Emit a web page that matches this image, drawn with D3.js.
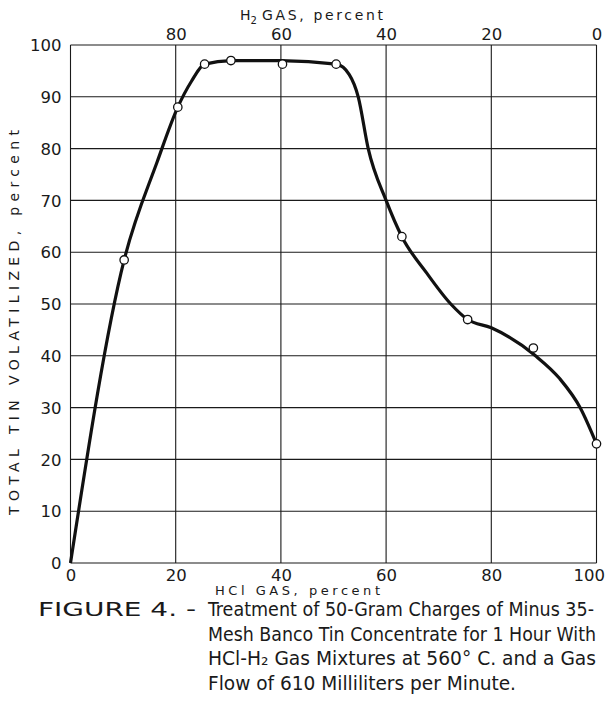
<!DOCTYPE html>
<html><head><meta charset="utf-8">
<script src="https://cdn.jsdelivr.net/npm/d3@7"></script>
<style>
html,body{margin:0;padding:0;background:#fff;}
svg{display:block;}
</style></head>
<body>
<svg id="chart" width="608" height="716"></svg>
<script>
// Measured points: HCl gas percent -> total tin volatilized percent
const hclPoints = [10.2, 20.4, 25.5, 30.5, 40.3, 50.5, 63, 75.5, 88, 100];
const tinPoints = [58.5, 88, 96.3, 97, 96.3, 96.3, 63, 47, 41.5, 23];
// Hand-drawn fitted curve
const curveHcl = [0, 10.2, 16.5, 20.4, 23, 25.5, 30.5, 40, 50.5, 53, 54.7, 56.6, 60, 63, 67.7, 72.3, 75.5, 80, 88.4, 93, 97, 100];
const curveTin = [0, 58.5, 77.5, 88, 93, 96.3, 97, 97, 96.3, 94.3, 90, 80, 70, 63, 56, 50, 47, 45.4, 40, 35.6, 29.8, 23];
const xTicks = [0, 20, 40, 60, 80, 100];
const yTicks = [0, 10, 20, 30, 40, 50, 60, 70, 80, 90, 100];
const topTickLabels = ["80", "60", "40", "20", "0"]; // H2 % at HCl 20,40,60,80,100
const captionLines = [
  "Treatment of 50-Gram Charges of Minus 35-",
  "Mesh Banco Tin Concentrate for 1 Hour With",
  "HCl-H\u2082 Gas Mixtures at 560\u00b0 C. and a  Gas",
  "Flow of 610 Milliliters per Minute."
];

const svg = d3.select("#chart");
const L = 70.5, R = 596.5, T = 45, B = 563;
const x = d3.scaleLinear().domain([0, 100]).range([L, R]);
const y = d3.scaleLinear().domain([0, 100]).range([B, T]);
const ink = "#1a1a1a";
const tickFont = "'DejaVu Sans', sans-serif";

// grid
const g = svg.append("g");
g.selectAll(".vg").data(xTicks).join("line")
  .attr("x1", d => x(d)).attr("x2", d => x(d)).attr("y1", T).attr("y2", B)
  .attr("stroke", ink).attr("stroke-width", 1.1);
g.selectAll(".hg").data(yTicks).join("line")
  .attr("x1", L).attr("x2", R).attr("y1", d => y(d)).attr("y2", d => y(d))
  .attr("stroke", ink).attr("stroke-width", 1.1);

// axes (labels only, via d3 axes)
const bottomAxis = svg.append("g").attr("transform", `translate(0,${B})`)
  .call(d3.axisBottom(x).tickValues(xTicks).tickSize(0).tickPadding(0));
const leftAxis = svg.append("g").attr("transform", `translate(${L},0)`)
  .call(d3.axisLeft(y).tickValues(yTicks).tickSize(0).tickPadding(9));
const topAxis = svg.append("g").attr("transform", `translate(0,${T})`)
  .call(d3.axisTop(x).tickValues([20, 40, 60, 80, 100]).tickSize(0).tickPadding(5)
    .tickFormat((d, i) => topTickLabels[i]));
[bottomAxis, leftAxis, topAxis].forEach(a => {
  a.select(".domain").remove();
  a.selectAll("text").attr("font-family", tickFont).attr("font-size", 16.5).attr("fill", ink);
});
bottomAxis.selectAll("text").attr("y", 17.5).attr("dy", null);
bottomAxis.selectAll("text").filter(d => d === 100).attr("text-anchor", "end").attr("x", 8);
leftAxis.selectAll("text").attr("dy", "0.35em");

// axis titles
const titleFont = "'DejaVu Sans', sans-serif";
const topTitle = svg.append("text").attr("x", 240).attr("y", 20)
  .attr("font-family", titleFont).attr("font-size", 14).attr("fill", ink);
topTitle.append("tspan").text("H");
topTitle.append("tspan").attr("font-size", 10).attr("dy", 4).text("2");
topTitle.append("tspan").attr("dy", -4).attr("x", 262)
  .attr("textLength", 121).attr("lengthAdjust", "spacing").text("GAS,   percent");

svg.append("text").attr("x", 215).attr("y", 595)
  .attr("font-family", titleFont).attr("font-size", 13).attr("fill", ink)
  .attr("textLength", 165).attr("lengthAdjust", "spacing")
  .text("HCl  GAS,   percent");

svg.append("text").attr("transform", "translate(19,515) rotate(-90)")
  .attr("font-family", titleFont).attr("font-size", 14).attr("fill", ink)
  .attr("textLength", 385).attr("lengthAdjust", "spacing")
  .text("TOTAL  TIN  VOLATILIZED,   percent");

// curve
const curveData = curveHcl.map((h, i) => [h, curveTin[i]]);
svg.append("path").datum(curveData)
  .attr("d", d3.line().x(d => x(d[0])).y(d => y(d[1])).curve(d3.curveMonotoneX))
  .attr("fill", "none").attr("stroke", "#111").attr("stroke-width", 3.2)
  .attr("stroke-linejoin", "round");

// markers
svg.selectAll(".pt").data(hclPoints.map((h, i) => [h, tinPoints[i]])).join("circle")
  .attr("cx", d => x(d[0])).attr("cy", d => y(d[1])).attr("r", 4.2)
  .attr("fill", "#fff").attr("stroke", "#111").attr("stroke-width", 1.3);

// caption
const capFont = "'Liberation Sans Narrow', 'DejaVu Sans Condensed', sans-serif";
svg.append("text").attr("x", 38).attr("y", 616)
  .attr("font-family", capFont).attr("font-size", 19.5).attr("fill", ink)
  .attr("textLength", 158).attr("lengthAdjust", "spacingAndGlyphs")
  .text("FIGURE  4. -");
const capWidths = [386, 388, 388, 308];
captionLines.forEach((t, i) => {
  svg.append("text").attr("x", 208).attr("y", 616 + i * 24.5)
    .attr("font-family", capFont).attr("font-size", 19.5).attr("fill", ink)
    .attr("textLength", capWidths[i]).attr("lengthAdjust", "spacingAndGlyphs")
    .text(t);
});
</script>
</body></html>
